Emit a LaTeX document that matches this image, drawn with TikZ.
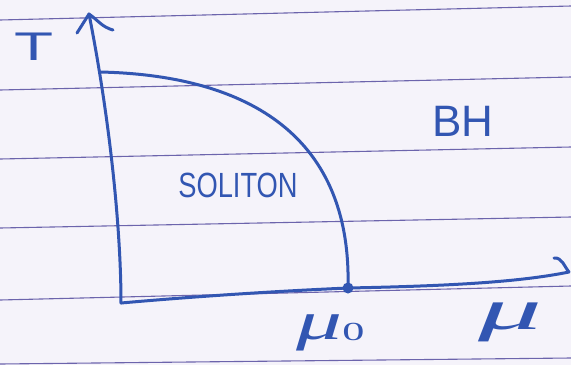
\documentclass[tikz,border=0pt]{standalone}
\usepackage{fontspec}
\setmainfont{Liberation Sans}
\newfontfamily\greekf{Liberation Serif}
\definecolor{pen}{RGB}{50,86,178}
\definecolor{rulecol}{RGB}{108,100,172}
\definecolor{paper}{RGB}{245,243,250}
\begin{document}
\begin{tikzpicture}[x=1pt,y=-1pt,
  pen/.style={draw=pen,line width=3pt,line cap=round,line join=round},
  ruled/.style={draw=rulecol,line width=1.1pt},
  lbl/.style={text=pen,inner sep=0pt}]
\fill[paper] (0,0) rectangle (571,365);
\useasboundingbox (0,0) rectangle (571,365);
% ruled lines of the paper
\draw[ruled] (0,20) -- (571,6);
\draw[ruled] (0,90) -- (571,77);
\draw[ruled] (0,159) -- (571,147);
\draw[ruled] (0,228) -- (571,217);
\draw[ruled] (0,300) -- (571,286);
\draw[ruled] (0,364) -- (571,358);
% axes
\coordinate (O) at (121,303);
\coordinate (Ytip) at (89,14);
\coordinate (Xtip) at (569,272);
\coordinate (Ybl) at (77,33);
\coordinate (Ybr) at (113,30);
\coordinate (Xb) at (554,258);
\coordinate (Tstart) at (100,72);
\node[circle,fill=pen,inner sep=0pt,minimum size=11pt] (mu0dot) at (348,288) {};
\draw[pen] (O) .. controls (121,230) and (110,120) .. (Ytip);
\draw[pen] (Ybl) -- (Ytip) to[out=-35,in=165] (Ybr);
\draw[pen] (O) .. controls (200,296) and (280,291) .. (mu0dot.center)
  .. controls (450,286) and (520,282) .. (Xtip);
\draw[pen] (Xb) to[out=5,in=130] (Xtip);
% phase boundary
\draw[pen] (Tstart) .. controls (240,75) and (352,130) .. (mu0dot.center);
% labels
\node[lbl,font=\fontsize{40}{40}\selectfont,xscale=1.6] (T) at (34,47) {T};
\node[lbl,font=\fontsize{35}{40}\selectfont,xscale=0.78] (sol) at (238,185) {SOLITON};
\node[lbl,font=\fontsize{44}{44}\selectfont] (bh) at (463,121) {BH};
\node[lbl,font=\greekf\itshape\fontsize{54}{54}\selectfont,xscale=1.7,anchor=base west] (mu0) at (296,339) {μ\raisebox{-1pt}{\fontsize{26}{26}\selectfont\upshape 0}};
\node[lbl,font=\greekf\itshape\fontsize{58}{58}\selectfont,xscale=2.2,anchor=base west] (mu) at (478,329) {μ};
\end{tikzpicture}
\end{document}
